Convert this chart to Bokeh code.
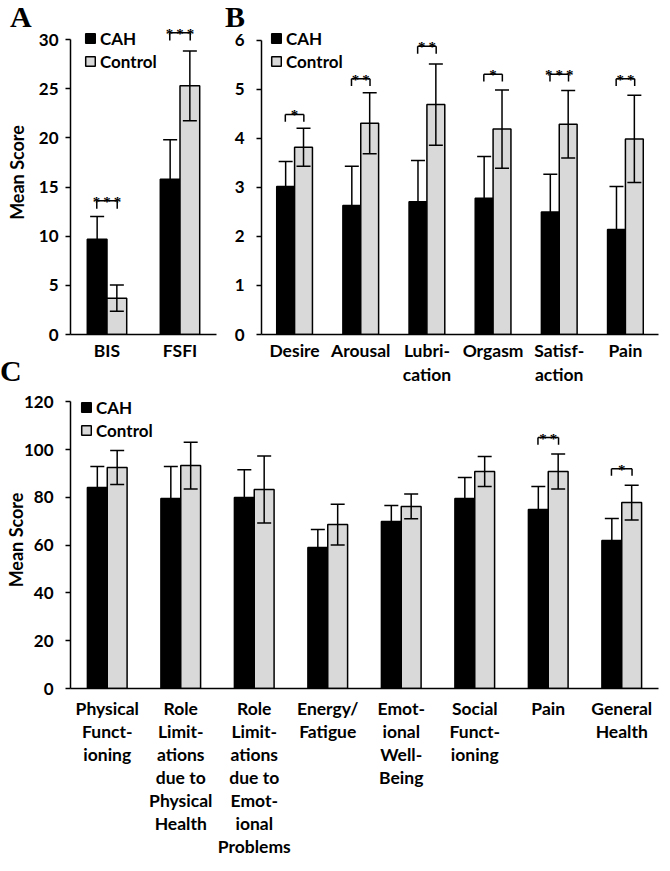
from bokeh.plotting import figure
from bokeh.models import FactorRange, Range1d, ColumnDataSource, Whisker, TeeHead, Div
from bokeh.transform import dodge
from bokeh.layouts import column, row
from bokeh.embed import file_html
from bokeh.resources import INLINE

# ---------------- data ----------------
cats_a = ["BIS", "FSFI"]
cah_a = [9.7, 15.8]
cah_a_err = [2.3, 4.0]
ctrl_a = [3.7, 25.3]
ctrl_a_err = [1.33, 3.55]
sig_a_cats = ["BIS", "FSFI"]
sig_a_y = [13.6, 30.7]
sig_a_stars = ["***", "***"]

cats_b = ["Desire", "Arousal", "Lubri-\ncation", "Orgasm", "Satisf-\naction", "Pain"]
cah_b = [3.02, 2.63, 2.71, 2.78, 2.50, 2.14]
cah_b_err = [0.51, 0.80, 0.84, 0.85, 0.77, 0.88]
ctrl_b = [3.82, 4.31, 4.69, 4.19, 4.29, 3.99]
ctrl_b_err = [0.39, 0.62, 0.83, 0.80, 0.69, 0.89]
sig_b_cats = cats_b
sig_b_y = [4.49, 5.22, 5.88, 5.31, 5.31, 5.22]
sig_b_stars = ["*", "**", "**", "*", "***", "**"]

cats_c = ["Physical\nFunct-\nioning",
          "Role\nLimit-\nations\ndue to\nPhysical\nHealth",
          "Role\nLimit-\nations\ndue to\nEmot-\nional\nProblems",
          "Energy/\nFatigue",
          "Emot-\nional\nWell-\nBeing",
          "Social\nFunct-\nioning",
          "Pain",
          "General\nHealth"]
cah_c = [84.1, 79.5, 79.9, 59.0, 69.9, 79.5, 74.9, 61.9]
cah_c_err = [8.8, 13.4, 11.7, 7.5, 6.7, 8.8, 9.6, 9.2]
ctrl_c = [92.5, 93.3, 83.3, 68.6, 76.2, 90.8, 90.8, 77.8]
ctrl_c_err = [7.1, 9.8, 14.0, 8.5, 5.2, 6.3, 7.3, 7.3]
sig_c_cats = ["Pain", "General\nHealth"]
sig_c_y = [105.0, 92.0]
sig_c_stars = ["**", "*"]

series_names = ["CAH", "Control"]
panel_letters = ["A", "B", "C"]

FONT = "Lato"
GRAY = "#d9d9d9"
OFF = 0.135
BW = 0.27
TS = "\u2009"


def make_panel(cats, cah, cah_err, ctrl, ctrl_err, sig_cats, sig_y, sig_stars, *,
               width, height, y_end, y_max, y_ticks, b_left, b_right, b_top, b_bottom,
               leg_loc, ylabel, y_standoff, ylab_standoff, x_standoff, x_line_height, leg_h):
    p = figure(width=width, height=height, x_range=FactorRange(factors=cats, range_padding=0),
               y_range=Range1d(0, y_end), output_backend="svg", toolbar_location=None,
               min_border_left=b_left, min_border_right=b_right,
               min_border_top=b_top, min_border_bottom=b_bottom)
    p.outline_line_color = None
    p.xgrid.grid_line_color = None
    p.ygrid.grid_line_color = None
    p.background_fill_alpha = 0
    p.border_fill_alpha = 0

    src = ColumnDataSource(dict(
        cat=cats, cah=cah, ctrl=ctrl,
        cah_hi=[v + e for v, e in zip(cah, cah_err)],
        cah_lo=[v - e for v, e in zip(cah, cah_err)],
        ctrl_hi=[v + e for v, e in zip(ctrl, ctrl_err)],
        ctrl_lo=[v - e for v, e in zip(ctrl, ctrl_err)],
    ))
    p.vbar(x=dodge("cat", -OFF, range=p.x_range), top="cah", width=BW, source=src,
           fill_color="black", line_color="black", line_width=1.5, legend_label=series_names[0])
    p.vbar(x=dodge("cat", OFF, range=p.x_range), top="ctrl", width=BW, source=src,
           fill_color=GRAY, line_color="black", line_width=1.5, legend_label=series_names[1])

    for key, off in (("cah", -OFF), ("ctrl", OFF)):
        w = Whisker(source=src, base=dodge("cat", off, range=p.x_range),
                    upper=key + "_hi", lower=key + "_lo", dimension="height",
                    line_color="black", line_width=1.5, level="overlay",
                    upper_head=TeeHead(size=14, line_width=1.5, line_color="black"),
                    lower_head=TeeHead(size=14, line_width=1.5, line_color="black"))
        p.add_layout(w)

    ssrc = ColumnDataSource(dict(cat=list(sig_cats), y=list(sig_y),
                                 y0=[v - leg_h for v in sig_y],
                                 s=[TS.join(list(s)) for s in sig_stars]))
    kw = dict(source=ssrc, line_color="black", line_width=1.5)
    p.segment(x0=dodge("cat", -0.14, range=p.x_range), x1=dodge("cat", 0.14, range=p.x_range),
              y0="y", y1="y", **kw)
    p.segment(x0=dodge("cat", -0.14, range=p.x_range), x1=dodge("cat", -0.14, range=p.x_range),
              y0="y", y1="y0", **kw)
    p.segment(x0=dodge("cat", 0.14, range=p.x_range), x1=dodge("cat", 0.14, range=p.x_range),
              y0="y", y1="y0", **kw)
    p.text(x="cat", y="y", text="s", source=ssrc, text_align="center",
           text_baseline="alphabetic", text_font="DejaVu Sans", text_font_size="15px",
           text_font_style="bold", text_color="black", y_offset=1)

    # axes
    ya = p.yaxis[0]
    ya.ticker = y_ticks
    ya.bounds = (0, y_max)
    ya.axis_line_width = 1.5
    ya.axis_line_color = "black"
    ya.major_tick_line_width = 1.5
    ya.major_tick_out = 5
    ya.major_tick_in = 0
    ya.minor_tick_line_color = None
    ya.major_label_standoff = y_standoff
    ya.major_label_text_font = FONT
    ya.major_label_text_font_style = "bold"
    ya.major_label_text_font_size = "17px"
    ya.major_label_text_color = "black"
    if ylabel:
        ya.axis_label = ylabel
        ya.axis_label_text_font = FONT
        ya.axis_label_text_font_style = "bold"
        ya.axis_label_text_font_size = "18px"
        ya.axis_label_text_color = "black"
        ya.axis_label_standoff = ylab_standoff
    xa = p.xaxis[0]
    xa.axis_line_width = 1.5
    xa.axis_line_color = "black"
    xa.major_tick_line_color = None
    xa.major_tick_out = 0
    xa.major_tick_in = 0
    xa.minor_tick_line_color = None
    xa.major_label_standoff = x_standoff
    xa.major_label_text_font = FONT
    xa.major_label_text_font_style = "bold"
    xa.major_label_text_font_size = "17.5px"
    xa.major_label_text_color = "black"
    xa.major_label_text_line_height = x_line_height

    lg = p.legend[0]
    lg.location = leg_loc
    lg.border_line_color = None
    lg.background_fill_alpha = 0
    lg.padding = 0
    lg.margin = 0
    lg.spacing = 1
    lg.glyph_width = 12
    lg.glyph_height = 12
    lg.label_height = 22
    lg.label_standoff = 4
    lg.label_text_font = FONT
    lg.label_text_font_style = "bold"
    lg.label_text_font_size = "17px"
    lg.label_text_color = "black"
    return p


pa = make_panel(cats_a, cah_a, cah_a_err, ctrl_a, ctrl_a_err, sig_a_cats, sig_a_y, sig_a_stars,
                width=224, height=390, y_end=32.96, y_max=30, y_ticks=[0, 5, 10, 15, 20, 25, 30],
                b_left=70, b_right=8, b_top=10, b_bottom=56, leg_loc=(14, 262),
                ylabel="Mean Score", y_standoff=7, ylab_standoff=8,
                x_standoff=5, x_line_height=1.17, leg_h=0.8)
pb = make_panel(cats_b, cah_b, cah_b_err, ctrl_b, ctrl_b_err, sig_b_cats, sig_b_y, sig_b_stars,
                width=436, height=390, y_end=6.61, y_max=6, y_ticks=[0, 1, 2, 3, 4, 5, 6],
                b_left=37, b_right=2, b_top=10, b_bottom=56, leg_loc=(9, 262),
                ylabel=None, y_standoff=12, ylab_standoff=0,
                x_standoff=5, x_line_height=1.17, leg_h=0.15)
pc = make_panel(cats_c, cah_c, cah_c_err, ctrl_c, ctrl_c_err, sig_c_cats, sig_c_y, sig_c_stars,
                width=660, height=471, y_end=124.3, y_max=120, y_ticks=[0, 20, 40, 60, 80, 100, 120],
                b_left=70, b_right=2, b_top=1, b_bottom=173, leg_loc=(10, 247),
                ylabel="Mean Score", y_standoff=12, ylab_standoff=-6,
                x_standoff=9, x_line_height=1.1, leg_h=3)

span = ('<span style="position:absolute;left:{x}px;top:{y}px;font-family:\'Liberation Serif\';'
        'font-weight:bold;font-size:30px;line-height:normal;color:black;z-index:5;'
        'white-space:nowrap;">{t}</span>')
letter_pos = [(10, 0), (225, 0), (0, 354)]
letters_html = "".join(span.format(x=x, y=y, t=t) for t, (x, y) in zip(panel_letters, letter_pos))
letters = Div(text=letters_html, width=660, height=400, margin=0,
              styles={"position": "absolute", "overflow": "visible", "z-index": "5",
                      "pointer-events": "none"})

layout = column(letters, row(pa, pb), pc)
open("out.html", "w").write(file_html(layout, INLINE))
